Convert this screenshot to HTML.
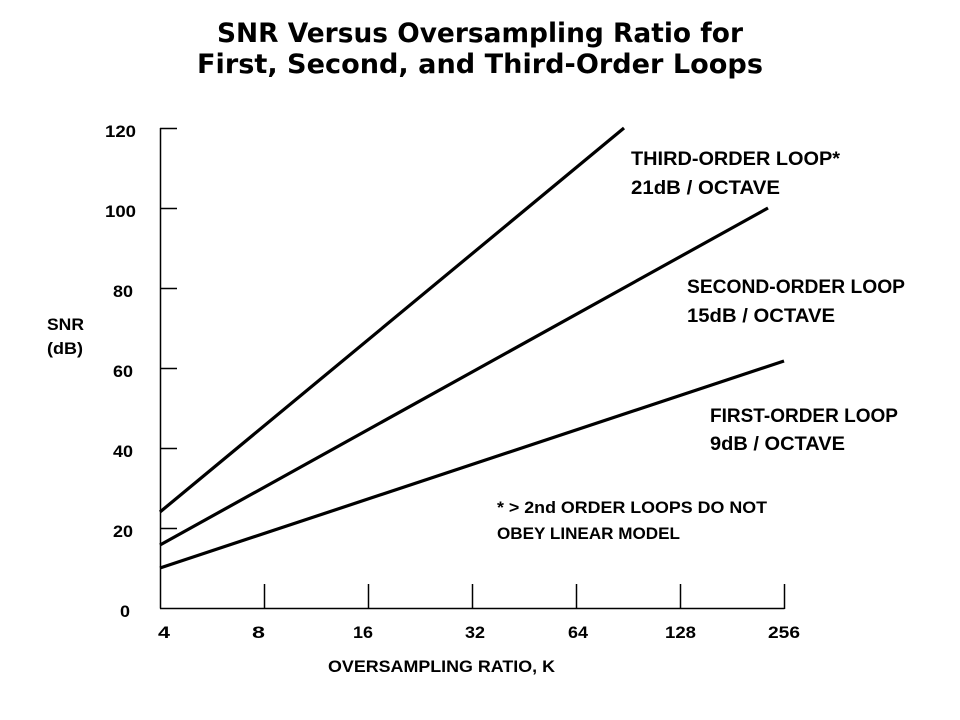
<!DOCTYPE html>
<html>
<head>
<meta charset="utf-8">
<style>
  html,body{margin:0;padding:0;background:#fff;}
  svg{display:block;}
  .t{font-family:"DejaVu Sans","Liberation Sans",sans-serif;font-weight:bold;font-size:27px;fill:#000;}
  .l{font-family:"Liberation Sans",sans-serif;font-weight:bold;fill:#000;}
</style>
</head>
<body>
<svg width="960" height="720" viewBox="0 0 960 720" xmlns="http://www.w3.org/2000/svg">
  <rect width="960" height="720" fill="#fff"/>
  <!-- Title -->
  <text class="t" x="217" y="42" textLength="526" lengthAdjust="spacingAndGlyphs">SNR Versus Oversampling Ratio for</text>
  <text class="t" x="197" y="73" textLength="566" lengthAdjust="spacingAndGlyphs">First, Second, and Third-Order Loops</text>

  <!-- Axes -->
  <g stroke="#000" stroke-width="1.5" fill="none">
    <line x1="160.5" y1="128" x2="160.5" y2="608.5"/>
    <line x1="160" y1="608.5" x2="784.5" y2="608.5"/>
    <!-- y ticks -->
    <line x1="160" y1="128.5" x2="177" y2="128.5"/>
    <line x1="160" y1="208.5" x2="177" y2="208.5"/>
    <line x1="160" y1="288.5" x2="177" y2="288.5"/>
    <line x1="160" y1="368.5" x2="177" y2="368.5"/>
    <line x1="160" y1="448.5" x2="177" y2="448.5"/>
    <line x1="160" y1="528.5" x2="177" y2="528.5"/>
    <!-- x ticks -->
    <line x1="264.5" y1="584" x2="264.5" y2="608"/>
    <line x1="368.5" y1="584" x2="368.5" y2="608"/>
    <line x1="472.5" y1="584" x2="472.5" y2="608"/>
    <line x1="576.5" y1="584" x2="576.5" y2="608"/>
    <line x1="680.5" y1="584" x2="680.5" y2="608"/>
    <line x1="784.5" y1="584" x2="784.5" y2="609"/>
  </g>

  <!-- Series -->
  <g stroke="#000" stroke-width="3.2" fill="none">
    <line x1="160" y1="512" x2="624" y2="128"/>
    <line x1="160" y1="545" x2="768" y2="208"/>
    <line x1="160" y1="568" x2="784" y2="361"/>
  </g>

  <!-- Y tick labels -->
  <g class="l" font-size="17">
    <text x="105" y="137" textLength="31" lengthAdjust="spacingAndGlyphs">120</text>
    <text x="105" y="217" textLength="31" lengthAdjust="spacingAndGlyphs">100</text>
    <text x="113" y="297" textLength="20" lengthAdjust="spacingAndGlyphs">80</text>
    <text x="113" y="377" textLength="20" lengthAdjust="spacingAndGlyphs">60</text>
    <text x="113" y="457" textLength="20" lengthAdjust="spacingAndGlyphs">40</text>
    <text x="113" y="537" textLength="20" lengthAdjust="spacingAndGlyphs">20</text>
    <text x="120" y="617" textLength="10" lengthAdjust="spacingAndGlyphs">0</text>
  </g>

  <!-- X tick labels -->
  <g class="l" font-size="17">
    <text x="158" y="638" textLength="12" lengthAdjust="spacingAndGlyphs">4</text>
    <text x="252" y="638" textLength="13" lengthAdjust="spacingAndGlyphs">8</text>
    <text x="353" y="638" textLength="20" lengthAdjust="spacingAndGlyphs">16</text>
    <text x="465" y="638" textLength="20" lengthAdjust="spacingAndGlyphs">32</text>
    <text x="568" y="638" textLength="20" lengthAdjust="spacingAndGlyphs">64</text>
    <text x="665" y="638" textLength="31" lengthAdjust="spacingAndGlyphs">128</text>
    <text x="768" y="638" textLength="32" lengthAdjust="spacingAndGlyphs">256</text>
  </g>

  <!-- Axis titles -->
  <text class="l" font-size="17" x="328" y="672" textLength="227" lengthAdjust="spacingAndGlyphs">OVERSAMPLING RATIO, K</text>
  <text class="l" font-size="17" x="47" y="330" textLength="37" lengthAdjust="spacingAndGlyphs">SNR</text>
  <text class="l" font-size="17" x="47" y="354" textLength="36" lengthAdjust="spacingAndGlyphs">(dB)</text>

  <!-- Series labels -->
  <g class="l" font-size="19">
    <text x="631" y="165" textLength="209" lengthAdjust="spacingAndGlyphs">THIRD-ORDER LOOP*</text>
    <text x="631" y="194" textLength="149" lengthAdjust="spacingAndGlyphs">21dB / OCTAVE</text>
    <text x="687" y="293" textLength="218" lengthAdjust="spacingAndGlyphs">SECOND-ORDER LOOP</text>
    <text x="687" y="322" textLength="148" lengthAdjust="spacingAndGlyphs">15dB / OCTAVE</text>
    <text x="710" y="422" textLength="188" lengthAdjust="spacingAndGlyphs">FIRST-ORDER LOOP</text>
    <text x="710" y="450" textLength="135" lengthAdjust="spacingAndGlyphs">9dB / OCTAVE</text>
  </g>

  <!-- Note -->
  <g class="l" font-size="17">
    <text x="497" y="513" textLength="270" lengthAdjust="spacingAndGlyphs">* &gt; 2nd ORDER LOOPS DO NOT</text>
    <text x="497" y="539" textLength="183" lengthAdjust="spacingAndGlyphs">OBEY LINEAR MODEL</text>
  </g>
</svg>
</body>
</html>
